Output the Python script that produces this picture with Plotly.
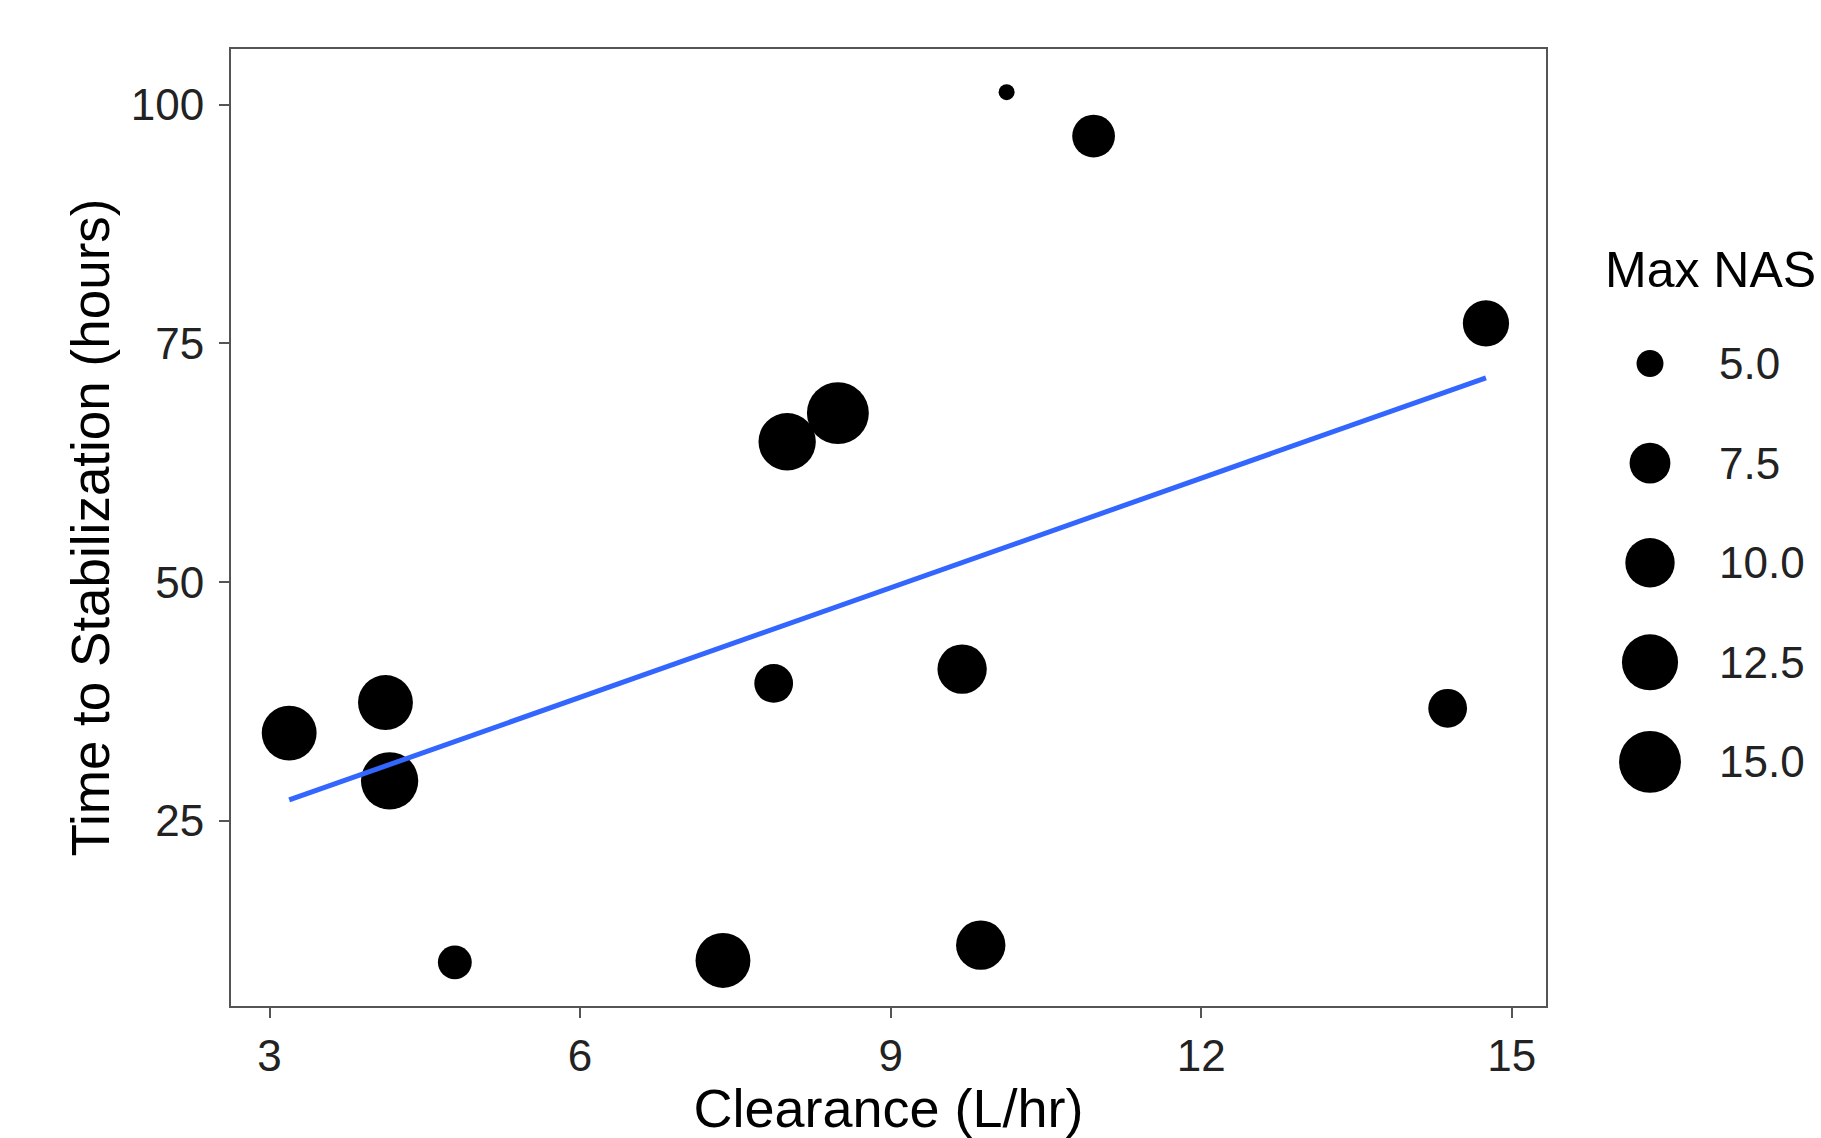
import math
import plotly.graph_objects as go

# ---- data ----
clearance = [10.12, 10.96, 14.75, 8.00, 8.49, 3.19, 4.12, 4.16, 7.87, 9.69, 14.38, 4.79, 7.38, 9.87]
stabilization = [101.3, 96.7, 77.1, 64.7, 67.7, 34.2, 37.4, 29.2, 39.4, 40.9, 36.8, 10.2, 10.4, 12.0]
max_nas = [4.4, 8, 9, 13, 15, 12, 12, 13, 7, 10, 7, 6, 12, 10]

fit_x = [3.19, 14.75]
fit_y = [27.2, 71.4]

legend_breaks = [5.0, 7.5, 10.0, 12.5, 15.0]
legend_labels = ["5.0", "7.5", "10.0", "12.5", "15.0"]
x_ticks = [3, 6, 9, 12, 15]
y_ticks = [25, 50, 75, 100]

# ---- styling / layout ----
W, H = 1821, 1138
ML, MR, MT, MB = 231, 0, 49, 132
PLOT_W = W - ML - MR
MAIN_RIGHT = 1546
main_dom = (MAIN_RIGHT - ML) / PLOT_W
leg_dom0 = 0.84
leg_width_px = (1 - leg_dom0) * PLOT_W
leg_left_px = ML + leg_dom0 * PLOT_W
panel_h = H - MT - MB

FONT = "Liberation Sans, Arial, sans-serif"
FRAME = "#555555"
TXT = "#222222"


def diam(v):
    return 16 + 14.1 * math.sqrt(max(v - 4.4, 0))


fig = go.Figure()

fig.add_trace(go.Scatter(
    x=clearance, y=stabilization, mode="markers",
    marker=dict(size=[diam(v) for v in max_nas], color="black", opacity=1,
                line=dict(width=0), symbol="circle"),
    showlegend=False, hoverinfo="skip"))

fig.add_trace(go.Scatter(
    x=fit_x, y=fit_y, mode="lines",
    line=dict(color="#3366FF", width=5),
    showlegend=False, hoverinfo="skip"))

# ---- size legend drawn on its own axes (pixel-like units) ----
dot_x = 1650 - leg_left_px
lab_x = 1717 - leg_left_px
title_x = 1603 - leg_left_px
first_y = 314.5
step = 99.6
leg_y = [first_y + i * step for i in range(len(legend_breaks))]

fig.add_trace(go.Scatter(
    x=[dot_x] * len(legend_breaks), y=leg_y, mode="markers",
    marker=dict(size=[diam(v) for v in legend_breaks], color="black", opacity=1,
                line=dict(width=0)),
    xaxis="x2", yaxis="y2", showlegend=False, hoverinfo="skip"))

annotations = []
for yy, lab in zip(leg_y, legend_labels):
    annotations.append(dict(x=lab_x, y=yy, xref="x2", yref="y2", text=lab,
                            showarrow=False, xanchor="left", yanchor="middle",
                            font=dict(family=FONT, size=44, color=TXT)))
annotations.append(dict(x=title_x, y=221, xref="x2", yref="y2", text="Max NAS",
                        showarrow=False, xanchor="left", yanchor="middle",
                        font=dict(family=FONT, size=50, color="black")))

axis_common = dict(showgrid=False, zeroline=False, showline=True, mirror=True,
                   linecolor=FRAME, linewidth=2, ticks="outside", ticklen=10,
                   tickwidth=2, tickcolor=FRAME, automargin=False,
                   tickfont=dict(family=FONT, size=44, color=TXT))

fig.update_layout(
    width=W, height=H,
    margin=dict(l=ML, r=MR, t=MT, b=MB),
    paper_bgcolor="white", plot_bgcolor="white",
    showlegend=False,
    xaxis=dict(domain=[0, main_dom], range=[2.628, 15.33], tickvals=x_ticks,
               ticktext=[str(t) for t in x_ticks], ticklabelstandoff=0,
               title=dict(text="Clearance (L/hr)", standoff=22,
                          font=dict(family=FONT, size=54, color="black")),
               **axis_common),
    yaxis=dict(domain=[0, 1], range=[5.63, 105.82], tickvals=y_ticks,
               ticktext=[str(t) for t in y_ticks], ticklabelstandoff=6,
               title=dict(text="Time to Stabilization (hours)", standoff=4,
                          font=dict(family=FONT, size=53, color="black")),
               **axis_common),
    xaxis2=dict(domain=[leg_dom0, 1], range=[0, leg_width_px], visible=False,
                anchor="y2"),
    yaxis2=dict(domain=[0, 1], range=[panel_h, 0], visible=False,
                anchor="x2"),
    annotations=annotations,
)

fig.write_html("out.html")
